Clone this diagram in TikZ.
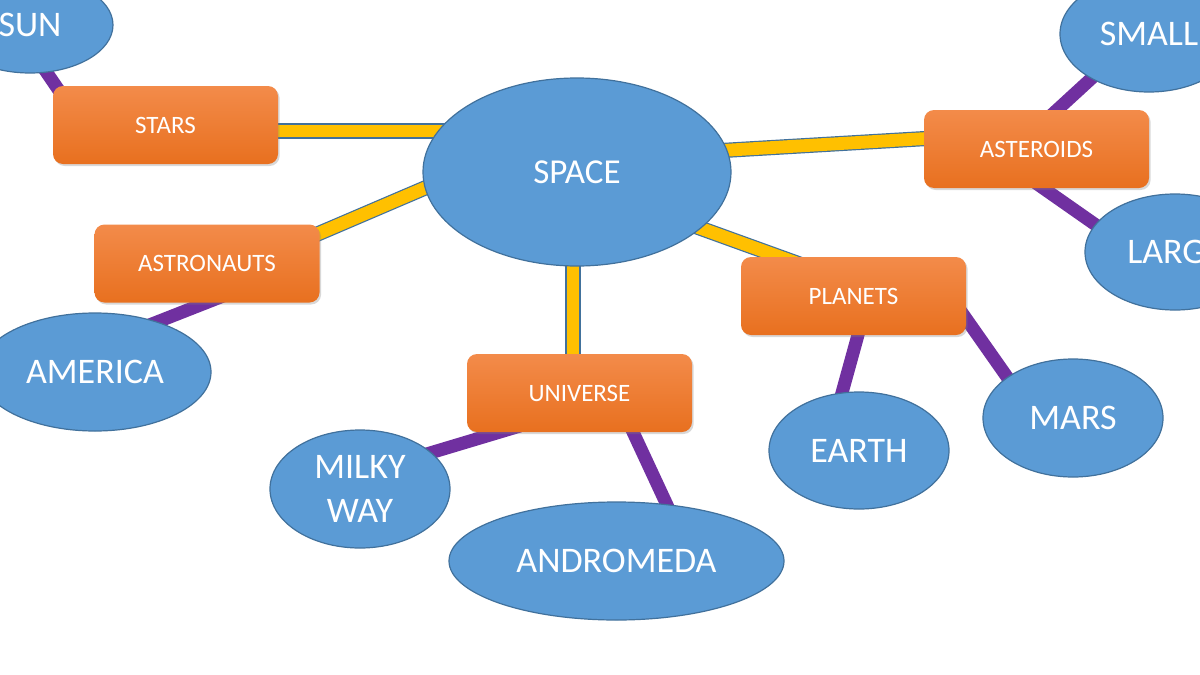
\documentclass[tikz,border=0pt]{standalone}
\usepackage{fontspec}
\setmainfont{Carlito}
\usetikzlibrary{shapes.geometric,shadows}
\pgfdeclarelayer{paper}
\pgfdeclarelayer{background}
\pgfsetlayers{paper,background,main}
\definecolor{skyblue}{HTML}{5B9BD5}
\definecolor{skyedge}{HTML}{41719C}
\definecolor{boxtop}{HTML}{F38B4A}
\definecolor{boxbottom}{HTML}{E8701F}
\definecolor{linkgold}{HTML}{FFC000}
\definecolor{linkpurple}{HTML}{7030A0}
\begin{document}
\begin{tikzpicture}[x=0.5pt, y=-0.5pt,
  bubble/.style={ellipse, draw=skyedge, line width=0.6pt, fill=skyblue, text=white, inner sep=0pt, align=center, font=\fontsize{18}{21.6}\selectfont},
  topic/.style={rectangle, rounded corners=5pt, top color=boxtop, bottom color=boxbottom, text=white, minimum width=112.5pt, minimum height=39pt, font=\fontsize{12.5}{15}\selectfont, drop shadow={shadow xshift=0.8pt, shadow yshift=-1pt, opacity=0.3}},
  goldlink/.style={draw=skyedge, line width=0.6pt, double=linkgold, double distance=6.4pt},
  purplelink/.style={draw=linkpurple, line width=6.5pt}]
	\useasboundingbox (0,0) rectangle (1200,675);
	\begin{pgfonlayer}{paper}
		\fill[white] (0,0) rectangle (1200,675);
	\end{pgfonlayer}
	\clip (0,0) rectangle (1200,675);

	% centre
	\node[bubble, minimum width=154pt, minimum height=94pt, font=\fontsize{17.5}{21}\selectfont] (space) at (577,172) {SPACE};

	% topics
	\node[topic] (stars) at (165.5,125) {STARS};
	\node[topic] (astronauts) at (207,263.5) {ASTRONAUTS};
	\node[topic] (universe) at (579.5,393) {UNIVERSE};
	\node[topic] (planets) at (853.5,296) {PLANETS};
	\node[topic] (asteroids) at (1036.5,149) {ASTEROIDS};

	% leaves
	\node[bubble, minimum width=83pt, minimum height=48pt] (sun) at (30,25) {SUN};
	\node[bubble, minimum width=116pt, minimum height=59pt] (america) at (95,372) {AMERICA};
	\node[bubble, minimum width=90pt, minimum height=59pt] (milkyway) at (360,489) {MILKY\\WAY};
	\node[bubble, minimum width=167.5pt, minimum height=59pt] (andromeda) at (616.5,561) {ANDROMEDA};
	\node[bubble, minimum width=90pt, minimum height=58.5pt] (earth) at (859,450.5) {EARTH};
	\node[bubble, minimum width=90pt, minimum height=59pt] (mars) at (1073,418) {MARS};
	\node[bubble, minimum width=89pt, minimum height=58pt] (small) at (1149,34) {SMALL};
	\node[bubble, minimum width=90pt, minimum height=58pt] (large) at (1175,252) {LARGE};

	\begin{pgfonlayer}{background}
		\draw[goldlink] ([shift={(95,6)}]stars.center) -- ([shift={(-97,-41)}]space.center);
		\draw[goldlink] ([shift={(93,-22)}]astronauts.center) -- ([shift={(-117,1)}]space.center);
		\draw[goldlink] ([shift={(-6.5,-23)}]universe.center) -- ([shift={(-4,68)}]space.center);
		\draw[goldlink] ([shift={(-53.5,-31.8)}]planets.center) -- ([shift={(83,41.6)}]space.center);
		\draw[goldlink] ([shift={(-86.5,-11.9)}]asteroids.center) -- ([shift={(123,-20.2)}]space.center);

		\draw[purplelink] ([shift={(-93.2,-15)}]stars.center) -- ([shift={(1.3,25)}]sun.center);
		\draw[purplelink] ([shift={(18,31.8)}]astronauts.center) -- ([shift={(45,-43.3)}]america.center);
		\draw[purplelink] ([shift={(-59.5,33)}]universe.center) -- ([shift={(50,-30)}]milkyway.center);
		\draw[purplelink] ([shift={(45.6,22)}]universe.center) -- ([shift={(59.8,-36)}]andromeda.center);
		\draw[purplelink] ([shift={(10,19)}]planets.center) -- ([shift={(-24.5,-30.5)}]earth.center);
		\draw[purplelink] ([shift={(106.5,14)}]planets.center) -- ([shift={(-49.8,-18)}]mars.center);
		\draw[purplelink] ([shift={(-1.3,-19)}]asteroids.center) -- ([shift={(-37.5,26)}]small.center);
		\draw[purplelink] ([shift={(-19.2,21)}]asteroids.center) -- ([shift={(-57.7,-12)}]large.center);
	\end{pgfonlayer}
\end{tikzpicture}
\end{document}
